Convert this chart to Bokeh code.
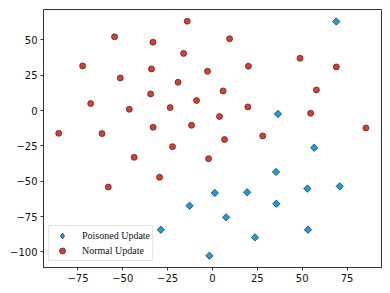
import numpy as np
from bokeh.plotting import figure
from bokeh.models import Range1d, Legend, LegendItem, FixedTicker
from bokeh.embed import file_html
from bokeh.resources import INLINE

# Normal updates (red circles)
normal_x = [-85.7, -72.4, -54.6, -67.9, -61.6, -51.4, -46.4, -33.2, -34.0, -34.5,
            -33.1, -22.3, -23.6, -19.2, -16.1, -14.1, -8.9, -11.7,
            9.5, 48.8, 20.0, 69.0, -2.8, 5.9, 57.9, 19.7, 54.7, 3.9, 85.5, 6.7, 28.0,
            -43.7, -29.5, -58.1, -2.2]
normal_y = [-16.1, 31.6, 52.2, 5.0, -16.3, 23.1, 0.9, 48.4, 29.5, 11.8,
            -11.8, -25.5, 2.1, 20.0, 40.4, 63.2, 7.1, -10.4,
            50.8, 37.0, 31.4, 30.9, 27.8, 13.9, 14.6, 2.6, -1.9, -4.2, -12.3, -20.5, -17.9,
            -33.1, -47.2, -54.1, -34.0]

# Poisoned updates (blue diamonds)
poison_x = [69.0, 36.5, 56.7, -12.8, -28.8, 35.4, 1.3, 19.3, 35.6, 52.9, 70.9,
            7.6, 53.2, 23.7, -1.7]
poison_y = [63.0, -2.4, -26.3, -67.3, -84.3, -43.4, -58.3, -57.8, -65.9, -55.2, -53.6,
            -75.5, -84.3, -89.7, -102.7]

x_ticks = [-75, -50, -25, 0, 25, 50, 75]
y_ticks = [-100, -75, -50, -25, 0, 25, 50]

RED = "#e8382c"
BLUE = "#149fe6"
EDGE = "#2a2a2a"

p = figure(width=384, height=286, output_backend="svg", toolbar_location=None,
           x_range=Range1d(-94.2, 94.2), y_range=Range1d(-111.0, 71.5),
           min_border_left=43, min_border_right=3, min_border_top=9, min_border_bottom=19)

p.xgrid.visible = False
p.ygrid.visible = False
p.outline_line_color = "#333333"
p.outline_line_width = 1
p.background_fill_color = "white"

for ax in (p.xaxis[0], p.yaxis[0]):
    ax.axis_line_color = "#333333"
    ax.major_tick_line_color = "#333333"
    ax.major_tick_out = 3
    ax.major_tick_in = 0
    ax.minor_tick_line_color = None
    ax.major_label_text_font = "DejaVu Sans"
    ax.major_label_text_font_size = "10px"
    ax.major_label_text_color = "#111111"
p.xaxis.ticker = FixedTicker(ticks=x_ticks)
p.yaxis.ticker = FixedTicker(ticks=y_ticks)
p.xaxis.major_label_standoff = 3
p.yaxis.major_label_standoff = 3

r_norm = p.scatter(normal_x, normal_y, marker="circle", size=6,
                   fill_color=RED, line_color=EDGE, line_width=0.7)
# diamond-shaped copy, hidden under the rotated squares; used for the legend swatch
r_pois_leg = p.scatter(poison_x, poison_y, marker="diamond", size=5,
                       fill_color=BLUE, line_color=EDGE, line_width=0.7)
r_pois = p.scatter(poison_x, poison_y, marker="square", size=5.2, angle=np.pi / 4,
                   fill_color=BLUE, line_color=EDGE, line_width=0.7)

legend = Legend(items=[LegendItem(label="Poisoned Update", renderers=[r_pois_leg]),
                       LegendItem(label="Normal Update", renderers=[r_norm])],
                location=(5, 6))
legend.label_text_font = "Liberation Serif"
legend.label_text_font_size = "10px"
legend.label_text_color = "#111111"
legend.border_line_color = "#cccccc"
legend.border_line_width = 1
legend.background_fill_alpha = 0.85
legend.glyph_width = 22
legend.glyph_height = 15
legend.label_standoff = 9
legend.padding = 2
legend.spacing = -1
legend.margin = 0
legend.label_height = 15
p.add_layout(legend, "center")

open("out.html", "w").write(file_html(p, INLINE))
